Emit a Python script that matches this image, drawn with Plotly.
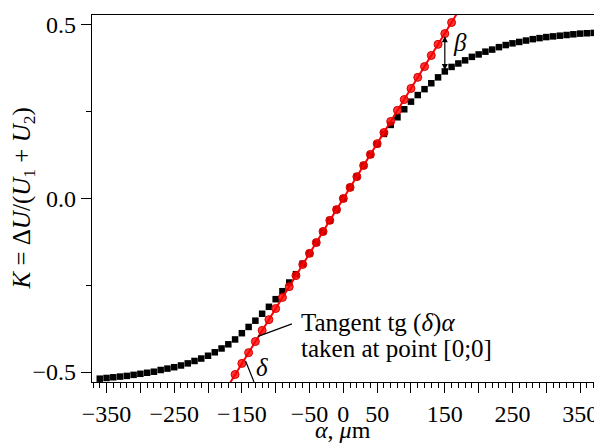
import plotly.graph_objects as go

# ---- data ----
alpha_meas = list(range(-360, 371, 10))
k_meas = [-0.519, -0.517, -0.515, -0.513, -0.511, -0.508, -0.505, -0.502, -0.499, -0.494,
          -0.490, -0.486, -0.481, -0.475, -0.468, -0.461, -0.453, -0.443, -0.432, -0.420,
          -0.406, -0.388, -0.370, -0.352, -0.332, -0.312, -0.290, -0.267, -0.242, -0.218,
          -0.188, -0.158, -0.127, -0.096, -0.064, -0.032, 0.000, 0.032, 0.063, 0.095,
          0.126, 0.157, 0.186, 0.212, 0.234, 0.257, 0.279, 0.298, 0.315, 0.332,
          0.349, 0.366, 0.379, 0.389, 0.398, 0.408, 0.415, 0.423, 0.429, 0.436,
          0.442, 0.447, 0.451, 0.455, 0.459, 0.462, 0.465, 0.467, 0.469, 0.471,
          0.473, 0.475, 0.476, 0.477]

alpha_tan = list(range(-160, 161, 10))
k_tan = [-0.507, -0.475, -0.444, -0.412, -0.380, -0.349, -0.317, -0.285, -0.254, -0.222,
         -0.190, -0.158, -0.127, -0.095, -0.063, -0.032, 0.000, 0.032, 0.063, 0.095,
         0.127, 0.158, 0.190, 0.222, 0.254, 0.285, 0.317, 0.349, 0.380, 0.412,
         0.444, 0.475, 0.507]

# tangent line extended beyond the markers (clipped by the axes)
alpha_tan_ext = [-180, 180]
k_tan_ext = [-0.571, 0.571]

x_labeled = [-350, -250, -150, -50, 0, 50, 150, 250, 350]
x_labeled_text = ["\u2212350", "\u2212250", "\u2212150", "\u221250", "0", "50", "150", "250", "350"]
x_unlabeled = [-300, -200, -100, 100, 200, 300]
x_minor = list(range(-370, 371, 10))
y_major = [-0.5, 0.0, 0.5]
y_major_text = ["\u22120.5", "0.0", "0.5"]
y_minor = [-0.25, 0.25]

X_RANGE = [-371.5, 370.5]
Y_RANGE = [-0.5286, 0.5286]

FONT = "Liberation Serif, Times New Roman, serif"
FS = 24
fig = go.Figure()

fig.add_trace(go.Scatter(x=alpha_meas, y=k_meas, mode="markers",
                         marker=dict(symbol="square", size=6.5, color="black"),
                         showlegend=False, hoverinfo="skip"))
fig.add_trace(go.Scatter(x=alpha_tan_ext, y=k_tan_ext, mode="lines",
                         line=dict(color="#ff0000", width=2), showlegend=False,
                         hoverinfo="skip"))
fig.add_trace(go.Scatter(x=alpha_tan, y=k_tan, mode="markers",
                         marker=dict(symbol="circle", size=8, color="rgba(255,0,0,0.8)",
                                     line=dict(color="#d40000", width=1)),
                         showlegend=False, hoverinfo="skip"))
# helper (invisible) trace so the overlay axis with unlabeled major ticks is drawn
fig.add_trace(go.Scatter(x=[0], y=[0], xaxis="x2", mode="markers",
                         marker=dict(opacity=0), showlegend=False, hoverinfo="skip"))

# page has an 8px body margin: compensate so plot area lands at (92..597, 12..382)
fig.update_layout(
    width=594, height=436,
    margin=dict(l=84, r=5, t=4, b=62),
    paper_bgcolor="white", plot_bgcolor="white",
    font=dict(family=FONT, size=FS, color="black"),
    xaxis=dict(range=X_RANGE, showgrid=False, zeroline=False,
               showline=True, linecolor="black", linewidth=1.2, mirror=True,
               tickmode="array", tickvals=x_labeled, ticktext=x_labeled_text,
               ticks="outside", ticklen=10, tickwidth=1, tickcolor="black",
               minor=dict(tickmode="array", tickvals=x_minor, ticks="outside",
                          ticklen=5, tickwidth=1, tickcolor="black", showgrid=False),
               tickfont=dict(family=FONT, size=FS)),
    xaxis2=dict(range=X_RANGE, overlaying="x", side="bottom", anchor="y",
                showgrid=False, zeroline=False, showline=False,
                tickmode="array", tickvals=x_unlabeled, showticklabels=False,
                ticks="outside", ticklen=10, tickwidth=1, tickcolor="black"),
    yaxis=dict(range=Y_RANGE, showgrid=False, zeroline=False,
               showline=True, linecolor="black", linewidth=1.2, mirror=True,
               tickmode="array", tickvals=y_major, ticktext=y_major_text,
               ticks="outside", ticklen=10, tickwidth=1, tickcolor="black",
               minor=dict(tickmode="array", tickvals=y_minor, ticks="outside",
                          ticklen=5, tickwidth=1, tickcolor="black", showgrid=False),
               tickfont=dict(family=FONT, size=FS)),
)

# axis titles as annotations
fig.add_annotation(xref="paper", yref="paper", x=0.5, y=0, yshift=-48,
                   text="<i>α</i>, <i>μ</i>m", showarrow=False,
                   font=dict(family=FONT, size=FS), xanchor="center", yanchor="middle")
fig.add_annotation(xref="paper", yref="paper", x=0, xshift=-69, y=0.5,
                   text="<i>K</i> = Δ<i>U</i>/(<i>U</i><sub>1</sub> + <i>U</i><sub>2</sub>)",
                   showarrow=False, textangle=-90,
                   font=dict(family=FONT, size=25), xanchor="center", yanchor="middle")

# beta arrow (double headed)
fig.add_annotation(x=150, y=0.370, ax=150, ay=0.472, xref="x", yref="y",
                   axref="x", ayref="y", text="", showarrow=True,
                   arrowhead=2, arrowsize=1, arrowwidth=1.2, arrowcolor="black",
                   arrowside="end+start")
fig.add_annotation(x=173, y=0.449, xref="x", yref="y", text="<i>β</i>",
                   showarrow=False, font=dict(family=FONT, size=25))

# delta angle marker
fig.add_shape(type="line", xref="x", yref="y", x0=-144.5, y0=-0.468, x1=-132, y1=-0.5286,
              line=dict(color="black", width=1.2))
fig.add_annotation(x=-120, y=-0.486, xref="x", yref="y", text="<i>δ</i>",
                   showarrow=False, font=dict(family=FONT, size=25))

# tangent pointer
fig.add_shape(type="line", xref="x", yref="y", x0=-126, y0=-0.397, x1=-76, y1=-0.361,
              line=dict(color="black", width=1.2))
fig.add_annotation(x=-65.5, y=-0.358, xref="x", yref="y",
                   text="Tangent tg (<i>δ</i>)<i>α</i>", showarrow=False,
                   xanchor="left", yanchor="middle", font=dict(family=FONT, size=25))
fig.add_annotation(x=-65.5, y=-0.432, xref="x", yref="y",
                   text="taken at point [0;0]", showarrow=False,
                   xanchor="left", yanchor="middle", font=dict(family=FONT, size=25))

fig.write_html("out.html")
